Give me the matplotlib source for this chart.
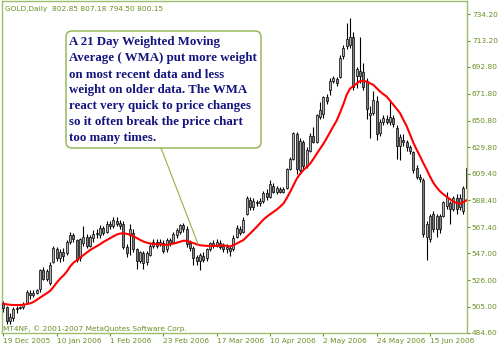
import matplotlib
matplotlib.use('Agg')
import matplotlib.pyplot as plt
from matplotlib.patches import FancyBboxPatch
import numpy as np

# daily GOLD bars, 19 Dec 2005 .. end of Jun 2006
opens = [508, 505, 494, 496, 503, 504, 505, 508, 516, 514,
         516, 519, 534, 527, 524, 540, 550, 543, 548, 547,
         556, 561, 557, 543, 555, 560, 553, 559, 562, 561,
         567, 564, 570, 568, 572, 571, 570, 552, 561, 563,
         550, 541, 547, 540, 546, 553, 556, 554, 555, 550,
         557, 556, 561, 564, 569, 566, 555, 551, 544, 541,
         545, 543, 550, 555, 553, 555, 553, 550, 551, 550,
         560, 566, 564, 578, 589, 583, 587, 586, 588, 594,
         591, 600, 595, 597, 595, 598, 613, 621, 640, 612,
         634, 615, 627, 639, 634, 654, 656, 669, 675, 682,
         683, 685, 701, 709, 710, 716, 686, 690, 689, 682,
         655, 657, 666, 641, 650, 652, 650, 653, 645, 631,
         636, 634, 630, 626, 614, 607, 604, 560, 558, 578,
         566, 576, 576, 584, 586, 582, 590, 583, 580, 598]
highs = [510, 506, 500, 505, 506, 506, 509, 518, 518, 518,
         519, 535, 536, 535, 540, 553, 552, 550, 551, 557,
         564, 563, 558, 559, 568, 562, 561, 565, 566, 569,
         568, 572, 572, 575, 575, 573, 572, 554, 570, 566,
         551, 549, 549, 549, 555, 558, 558, 558, 557, 559,
         559, 564, 567, 570, 571, 568, 557, 553, 546, 547,
         548, 551, 556, 557, 558, 557, 555, 554, 553, 561,
         569, 568, 575, 592, 591, 590, 589, 590, 596, 597,
         604, 602, 600, 599, 599, 614, 622, 642, 642, 637,
         636, 630, 641, 646, 656, 665, 670, 672, 684, 686,
         685, 702, 710, 727, 731, 720, 693, 716, 696, 684,
         662, 674, 670, 652, 655, 655, 666, 655, 647, 640,
         640, 636, 632, 627, 616, 609, 606, 572, 578, 580,
         578, 578, 588, 595, 588, 592, 593, 593, 600, 617]
lows = [501, 492, 492, 494, 500, 503, 503, 507, 511, 513,
        515, 517, 526, 525, 522, 539, 541, 540, 541, 546,
        554, 556, 540, 541, 553, 551, 552, 556, 559, 559,
        561, 563, 566, 567, 568, 566, 550, 544, 546, 548,
        535, 539, 535, 538, 545, 551, 551, 553, 547, 548,
        553, 555, 559, 562, 564, 552, 549, 538, 538, 534,
        540, 541, 549, 551, 552, 550, 548, 547, 545, 549,
        559, 561, 563, 577, 581, 581, 584, 584, 586, 589,
        590, 594, 593, 594, 594, 597, 612, 620, 609, 609,
        613, 614, 626, 633, 633, 652, 653, 664, 671, 680,
        678, 684, 699, 707, 708, 675, 676, 680, 675, 652,
        637, 655, 636, 639, 647, 648, 647, 646, 621, 620,
        631, 627, 625, 610, 605, 603, 560, 542, 556, 564,
        560, 563, 575, 582, 570, 580, 578, 581, 578, 596]
closes = [504, 494, 497, 503, 504, 505, 507, 517, 514, 516,
          518, 534, 527, 533, 538, 551, 543, 548, 545, 556,
          561, 558, 542, 558, 560, 553, 560, 562, 563, 567,
          563, 570, 568, 573, 570, 568, 552, 547, 566, 550,
          541, 548, 539, 547, 553, 556, 553, 556, 549, 557,
          555, 562, 565, 569, 566, 554, 551, 543, 541, 546,
          542, 550, 555, 553, 556, 552, 550, 552, 549, 559,
          567, 563, 573, 590, 583, 588, 586, 588, 594, 591,
          601, 595, 598, 595, 597, 613, 621, 641, 613, 635,
          615, 628, 639, 634, 655, 659, 669, 666, 682, 684,
          680, 700, 708, 715, 716, 677, 691, 686, 677, 660,
          657, 667, 640, 650, 653, 650, 654, 648, 631, 638,
          634, 630, 627, 612, 607, 605, 562, 570, 576, 566,
          576, 566, 587, 591, 582, 590, 582, 590, 598, 614]
wma21 = [507.5, 507.0, 506.7, 506.5, 506.5, 506.5, 506.7, 507.2, 507.8, 508.8,
         510.5, 512.3, 513.8, 515.7, 517.5, 520.5, 524.0, 527.0, 529.5, 532.5,
         536.5, 539.5, 541.5, 543.5, 545.5, 547.5, 549.5, 551.0, 552.5, 554.0,
         555.8, 557.3, 558.7, 560.2, 561.6, 562.4, 562.6, 562.2, 561.5, 560.3,
         559.0, 557.5, 556.2, 555.3, 554.7, 554.3, 554.1, 554.0, 553.7, 553.6,
         554.0, 554.5, 555.2, 556.0, 556.8, 556.7, 555.8, 555.0, 554.0, 553.3,
         553.0, 552.8, 552.8, 552.7, 552.8, 553.0, 553.2, 552.8, 552.3, 553.3,
         554.6, 556.0, 557.3, 559.8, 562.4, 565.0, 567.6, 570.5, 573.3, 575.5,
         577.5, 579.3, 581.1, 583.4, 585.8, 590.0, 594.8, 600.0, 605.2, 609.0,
         612.0, 614.5, 617.0, 620.7, 624.8, 628.7, 632.6, 637.0, 641.7, 646.3,
         650.8, 657.0, 663.5, 671.0, 675.8, 677.8, 679.7, 681.8, 682.0, 681.3,
         680.0, 678.8, 676.2, 673.6, 671.5, 669.6, 666.5, 663.2, 660.0, 656.7,
         651.5, 646.5, 640.0, 633.5, 628.0, 623.0, 617.5, 612.5, 607.0, 602.2,
         598.5, 595.5, 593.2, 591.2, 589.3, 587.5, 586.3, 585.8, 587.0, 588.5]

date_labels = ['19 Dec 2005', '10 Jan 2006', '1 Feb 2006', '23 Feb 2006', '17 Mar 2006',
               '10 Apr 2006', '2 May 2006', '24 May 2006', '15 Jun 2006']
price_ticks = [734.20, 713.20, 692.80, 671.80, 650.80, 629.80, 609.40,
               588.40, 567.40, 547.00, 526.00, 505.00, 484.60]
note_lines = ['A 21 Day Weighted Moving',
              'Average ( WMA) put more weight',
              'on most recent data and less',
              'weight on older data. The WMA',
              'react very quick to price changes',
              'so it often break the price chart',
              'too many times.']

olive = '#6a8f24'
frame = '#9cbd6a'

fig = plt.figure(figsize=(5.0, 3.51), dpi=100)
ax = fig.add_axes([2 / 500, 18 / 351, 465 / 500, 332 / 351])

x = np.arange(len(closes))
o = np.array(opens, dtype=float)
c = np.array(closes, dtype=float)
up = c >= o

ax.vlines(x, lows, highs, color='black', lw=0.8, zorder=2)
ax.bar(x[up], c[up] - o[up], bottom=o[up], width=0.62, color='#b0b0b0',
       edgecolor='black', linewidth=0.5, zorder=3)
ax.bar(x[~up], o[~up] - c[~up], bottom=c[~up], width=0.62, color='#808080',
       edgecolor='black', linewidth=0.5, zorder=3)
ax.plot(x, wma21, color='red', lw=1.5, zorder=4)

ax.set_xlim(-0.4, 139.1)
ax.set_ylim(484.6, 744.4)

for s in ax.spines.values():
    s.set_color(frame)
    s.set_linewidth(1.0)

ax.yaxis.tick_right()
ax.set_yticks(price_ticks)
ax.set_yticklabels(['%.2f' % v for v in price_ticks])
ax.tick_params(axis='y', direction='out', length=2, width=0.8, color=olive,
               labelcolor=olive, labelsize=5.3, pad=1.5)

ax.set_xticks(range(0, 129, 16))
ax.set_xticklabels(date_labels, ha='left')
ax.tick_params(axis='x', direction='out', length=2, width=0.8, color=olive,
               labelcolor=olive, labelsize=5.3, pad=1.5)

# overlay in pixel coordinates for the note and the captions
oax = fig.add_axes([0, 0, 1, 1], facecolor='none')
oax.set_xlim(0, 500)
oax.set_ylim(351, 0)
oax.axis('off')

oax.plot([161, 198], [148, 244], color='#8db34a', lw=0.8)
box = FancyBboxPatch((66, 31), 195, 117, boxstyle='round,pad=0,rounding_size=6',
                     facecolor='white', edgecolor='#8db34a', linewidth=1.0)
oax.add_patch(box)
for k, line in enumerate(note_lines):
    oax.text(69, 42.5 + 16 * k, line, fontsize=9.3, fontweight='bold',
             family='Liberation Serif', color='#14147f', va='center', ha='left')

oax.text(5, 9, 'GOLD,Daily  802.85 807.18 794.50 800.15', fontsize=5.3,
         color=olive, va='center', ha='left')
oax.text(3, 329, 'MT4NF, \u00a9 2001-2007 MetaQuotes Software Corp.', fontsize=5.3,
         color=olive, va='center', ha='left')

fig.savefig('out.png', dpi=100, facecolor='white')
